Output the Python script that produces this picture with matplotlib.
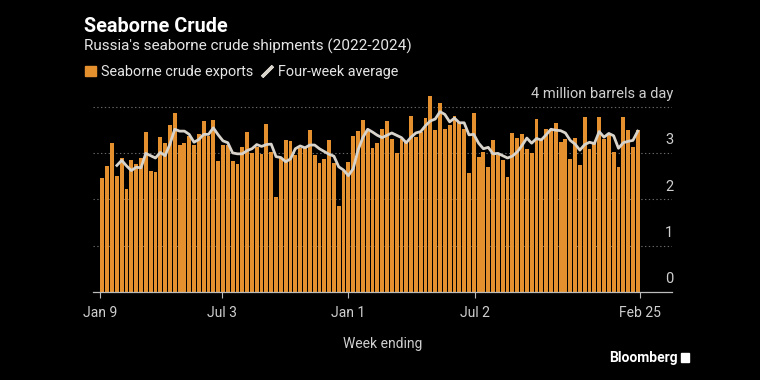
import pandas as pd
import matplotlib
matplotlib.use("Agg")
import matplotlib.pyplot as plt
import matplotlib.patches as mpatches
import matplotlib.lines as mlines

# weekly seaborne crude exports, million barrels a day (week ending Sunday)
weeks = pd.date_range("2022-01-09", "2024-02-25", freq="7D")
exports = [
    2.46, 2.72, 3.22, 2.51, 2.90, 2.23, 2.84, 2.77, 2.89, 3.46,
    2.62, 2.59, 3.35, 3.21, 3.61, 3.86, 3.18, 3.21, 3.36, 3.17,
    3.40, 3.68, 3.36, 3.70, 2.82, 3.16, 3.18, 2.82, 2.77, 3.13,
    3.46, 2.99, 3.13, 2.97, 3.62, 3.03, 2.05, 2.88, 3.28, 3.26,
    2.95, 3.11, 3.11, 3.49, 2.95, 2.79, 2.87, 3.28, 2.79, 1.85,
    2.61, 2.80, 3.36, 3.47, 3.70, 3.50, 3.11, 3.21, 3.51, 3.69,
    3.31, 3.00, 3.31, 3.26, 3.80, 3.34, 3.45, 3.76, 4.22, 3.49,
    4.07, 3.52, 3.60, 3.80, 3.66, 3.52, 2.56, 3.86, 2.91, 3.02,
    2.70, 3.28, 2.95, 2.84, 2.48, 3.44, 3.33, 3.40, 3.09, 3.00,
    3.73, 3.29, 3.52, 3.51, 3.65, 3.24, 3.31, 2.87, 3.33, 2.74,
    3.78, 3.08, 3.21, 3.78, 3.29, 3.38, 3.03, 2.69, 3.78, 3.49,
    3.13, 3.49,
]
# four-week average, starts on the fourth week
avg4 = [
    2.73, 2.84, 2.72, 2.62, 2.69, 2.68, 2.99, 2.94, 2.89, 3.01,
    2.94, 3.19, 3.51, 3.47, 3.47, 3.40, 3.23, 3.29, 3.40, 3.40,
    3.54, 3.39, 3.26, 3.22, 3.00, 2.98, 2.98, 3.05, 3.09, 3.18,
    3.14, 3.18, 3.19, 2.92, 2.90, 2.81, 2.87, 3.09, 3.15, 3.11,
    3.17, 3.17, 3.09, 3.03, 2.97, 2.93, 2.70, 2.63, 2.51, 2.66,
    3.06, 3.33, 3.51, 3.45, 3.38, 3.33, 3.38, 3.43, 3.38, 3.33,
    3.22, 3.34, 3.43, 3.46, 3.59, 3.69, 3.73, 3.89, 3.83, 3.67,
    3.75, 3.65, 3.65, 3.39, 3.40, 3.21, 3.09, 3.12, 2.98, 2.99,
    2.94, 2.89, 2.93, 3.02, 3.16, 3.32, 3.21, 3.31, 3.28, 3.39,
    3.51, 3.49, 3.48, 3.43, 3.27, 3.19, 3.06, 3.18, 3.23, 3.20,
    3.46, 3.34, 3.42, 3.37, 3.10, 3.22, 3.25, 3.27, 3.47,
]
tick_dates = ["2022-01-09", "2022-07-03", "2023-01-01", "2023-07-02", "2024-02-25"]
tick_labels = ["Jan 9", "Jul 3", "Jan 1", "Jul 2", "Feb 25"]
y_values = [0, 1, 2, 3, 4]
y_labels = ["0", "1", "2", "3", "4 million barrels a day"]

BG = "#000000"
ORANGE = "#E4902F"
LINE = "#D8D3CB"
TXT = "#CFCFCF"
GRID = "#6A6A6A"
FONT = ["Roboto", "DejaVu Sans"]
plt.rcParams["font.family"] = FONT

fig = plt.figure(figsize=(7.6, 3.8), dpi=100, facecolor=BG)
ax = fig.add_axes([93 / 760, 88 / 380, 579 / 760, 204 / 380])
ax.set_facecolor(BG)

n = len(exports)
x = [i + 0.5 for i in range(n)]
ax.bar(x, exports, width=0.8, color=ORANGE, linewidth=0, zorder=2)
ax.plot(x[3:], avg4, color=LINE, linewidth=2.0, zorder=3, solid_joinstyle="round")

# date ticks on the same slot scale as the bars
d0, d1 = weeks[0], weeks[-1]
tick_pos = [(pd.Timestamp(d) - d0) / (d1 - d0) * n for d in tick_dates]
ax.set_xticks(tick_pos)
ax.set_xticklabels(tick_labels, color=TXT, fontsize=10)
ax.tick_params(axis="x", length=4, width=0.8, color="#BBBBBB", pad=6)
ax.tick_params(axis="y", left=False, labelleft=False)

ax.set_xlim(-1.45, 118.6)
ax.set_ylim(0, 4.4)

for s in ["top", "right", "left"]:
    ax.spines[s].set_visible(False)
ax.spines["bottom"].set_color("#BBBBBB")
ax.spines["bottom"].set_linewidth(0.9)

for v, lab in zip(y_values, y_labels):
    if v > 0:
        ax.axhline(v, color=GRID, linewidth=0.8, linestyle=(0, (1.2, 2.2)), zorder=1)
    ax.annotate(lab, xy=(1.0, v), xycoords=("axes fraction", "data"),
                xytext=(1, 4), textcoords="offset points",
                ha="right", va="bottom", color=TXT, fontsize=10.5)

ax.set_xlabel("Week ending", color=TXT, fontsize=10, labelpad=12)

# titles
fig.text(84 / 760, 1 - 26 / 380, "Seaborne Crude", color="white",
         fontsize=14.3, fontweight="bold", va="center", ha="left")
fig.text(84 / 760, 1 - 46 / 380, "Russia's seaborne crude shipments (2022-2024)",
         color="#E6E6E6", fontsize=11, va="center", ha="left")

# legend
leg_handles = [
    mpatches.Patch(color=ORANGE, label="Seaborne crude exports"),
    mlines.Line2D([], [], color=LINE, linestyle="none", marker=(2, 2, -45),
                  markersize=11, markeredgewidth=2.4, label="Four-week average"),
]
fig.legend(handles=leg_handles, loc="center left", bbox_to_anchor=(72 / 760, 1 - 72 / 380),
           ncol=2, frameon=False, fontsize=10.4, labelcolor="#E6E6E6",
           handlelength=0.75, handleheight=0.75, handletextpad=0.35, columnspacing=0.6)

fig.text(678 / 760, 1 - 358 / 380, "Bloomberg", color="white", fontsize=10,
         fontweight="bold", ha="right", va="center")
fig.patches.append(mpatches.Rectangle((681 / 760, 1 - 362 / 380), 8 / 760, 9 / 380,
                                      transform=fig.transFigure, color="white"))

fig.savefig("out.png", dpi=100, facecolor=BG)
